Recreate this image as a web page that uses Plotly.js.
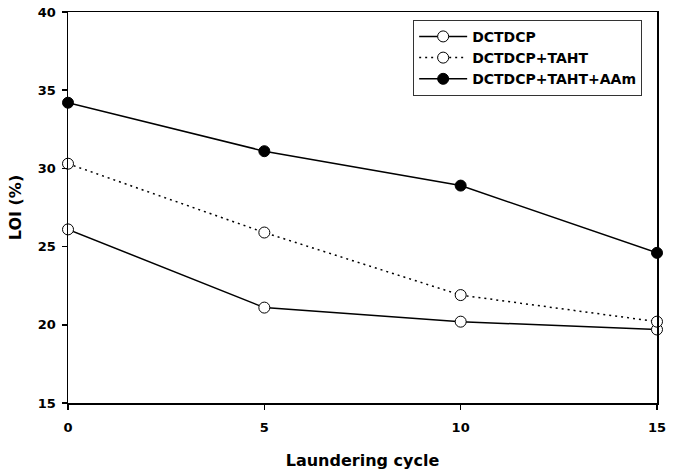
<!DOCTYPE html>
<html><head><meta charset="utf-8">
<script src="https://cdn.plot.ly/plotly-3.0.1.min.js"></script>
<style>body{margin:0;padding:0;background:#fff}#chart{width:687px;height:473px}</style>
</head><body><div id="chart"></div>
<script>
const cycles = [0, 5, 10, 15];
const dctdcp = [26.1, 21.1, 20.2, 19.7];
const dctdcpTaht = [30.3, 25.9, 21.9, 20.2];
const dctdcpTahtAam = [34.2, 31.1, 28.9, 24.6];
const seriesNames = ['DCTDCP', 'DCTDCP+TAHT', 'DCTDCP+TAHT+AAm'];

const fontFam = '"DejaVu Sans", "Liberation Sans", Arial, sans-serif';
function tr(y, name, dash, fill) {
  return {
    x: cycles, y: y, name: name, type: 'scatter', mode: 'lines+markers',
    cliponaxis: false,
    line: {color: '#000', width: 1.5, dash: dash},
    marker: {size: 11, color: fill, line: {color: '#000', width: 1}}
  };
}
const data = [
  tr(dctdcp, seriesNames[0], 'solid', '#fff'),
  tr(dctdcpTaht, seriesNames[1], '2px,4px', '#fff'),
  tr(dctdcpTahtAam, seriesNames[2], 'solid', '#000')
];
const layout = {
  width: 687, height: 473,
  margin: {l: 68, r: 30, t: 12, b: 70},
  paper_bgcolor: '#fff', plot_bgcolor: '#fff',
  font: {family: fontFam, color: '#000', size: 13},
  showlegend: true,
  legend: {
    x: 0.586, y: 0.98, xanchor: 'left', yanchor: 'top',
    bordercolor: '#333', borderwidth: 1, bgcolor: '#fff',
    font: {family: fontFam, size: 14, color: '#000', weight: 'bold'},
    itemwidth: 48,
    tracegroupgap: 0
  },
  xaxis: {
    range: [0, 15], tickvals: [0, 5, 10, 15], ticktext: ['0','5','10','15'],
    showgrid: false, zeroline: false,
    showline: true, linecolor: '#000', linewidth: 1.5, mirror: true,
    ticks: 'outside', ticklen: 5, tickwidth: 1.5, tickcolor: '#000',
    ticklabelstandoff: 7,
    tickfont: {family: fontFam, size: 13, color: '#000', weight: 'bold'},
    title: {text: 'Laundering cycle', font: {family: fontFam, size: 16, color: '#000', weight: 'bold'}, standoff: 20}
  },
  yaxis: {
    range: [15, 40], tickvals: [15, 20, 25, 30, 35, 40],
    showgrid: false, zeroline: false,
    showline: true, linecolor: '#000', linewidth: 1.5, mirror: true,
    ticks: 'outside', ticklen: 5, tickwidth: 1.5, tickcolor: '#000',
    ticklabelstandoff: 3,
    tickfont: {family: fontFam, size: 13, color: '#000', weight: 'bold'},
    title: {text: 'LOI (%)', font: {family: fontFam, size: 16, color: '#000', weight: 'bold'}, standoff: 12}
  }
};
Plotly.newPlot('chart', data, layout, {displayModeBar: false, staticPlot: true});
</script></body></html>
